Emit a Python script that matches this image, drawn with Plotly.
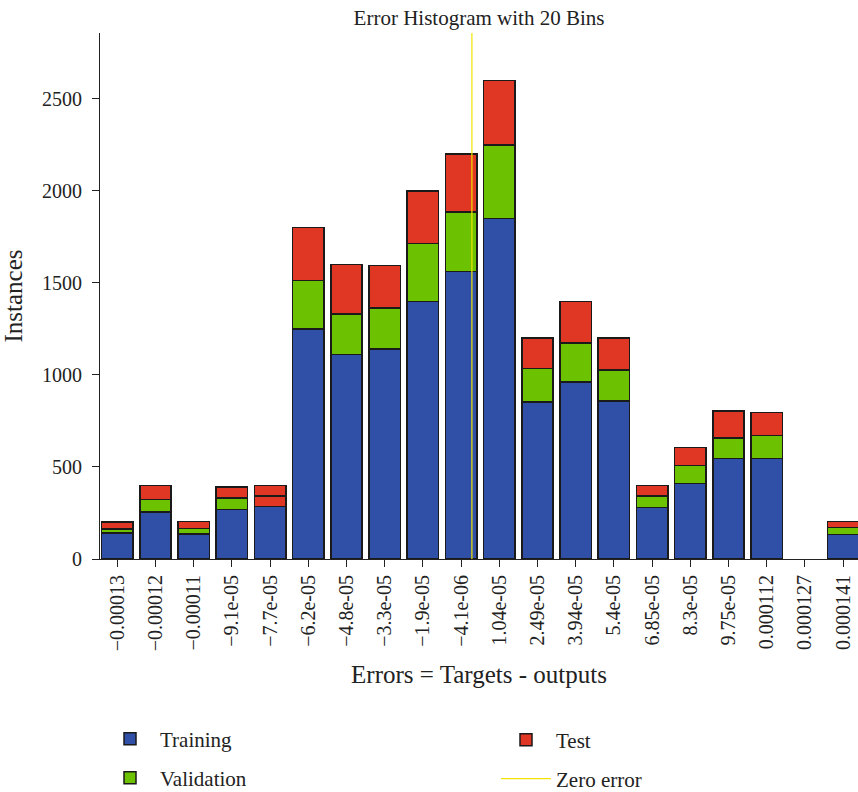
import numpy as np
import plotly.graph_objects as go

# ---- data ----
bin_labels = ["\u22120.00013", "\u22120.00012", "\u22120.00011", "\u22129.1e-05", "\u22127.7e-05",
              "\u22126.2e-05", "\u22124.8e-05", "\u22123.3e-05", "\u22121.9e-05", "\u22124.1e-06",
              "1.04e-05", "2.49e-05", "3.94e-05", "5.4e-05", "6.85e-05",
              "8.3e-05", "9.75e-05", "0.000112", "0.000127", "0.000141"]
bin_centers = [-0.00013, -0.00012, -0.00011, -9.1e-05, -7.7e-05,
               -6.2e-05, -4.8e-05, -3.3e-05, -1.9e-05, -4.1e-06,
               1.04e-05, 2.49e-05, 3.94e-05, 5.4e-05, 6.85e-05,
               8.3e-05, 9.75e-05, 0.000112, 0.000127, 0.000141]
training = [140, 254, 136, 268, 286, 1250, 1112, 1141, 1399, 1562,
            1850, 852, 962, 859, 281, 411, 545, 547, 0, 134]
validation = [23, 68, 31, 62, 55, 262, 218, 223, 315, 324,
              398, 182, 210, 168, 61, 98, 111, 125, 0, 36]
test = [37, 78, 38, 61, 59, 288, 270, 231, 286, 314,
        352, 166, 228, 173, 58, 96, 149, 125, 0, 33]
y_ticks = [0, 500, 1000, 1500, 2000, 2500]
y_max = 2857

idx = np.arange(len(bin_labels))
# position of zero error on the bin-index axis
zero_pos = float(np.interp(0.0, bin_centers, idx))

BLUE = "#3050A8"
GREEN = "#6CC200"
RED = "#E03624"
YELLOW = "#F2E400"
EDGE = "#1a1a1a"
FONT = "Liberation Serif"
TXT = "#222"

W, H = 858, 792
ML, MT, MB, MR = 100, 33, 233, 0
PW, PH = W - ML - MR, H - MT - MB

val_colors = [GREEN] * len(idx)
val_colors[4] = RED  # segment drawn red in the reference


def edge_widths(vals):
    return [1.5 if v > 0 else 0 for v in vals]


fig = go.Figure()
fig.add_trace(go.Bar(x=idx, y=training, name="Training", legend="legend", showlegend=True,
                     marker=dict(color=BLUE, line=dict(color=EDGE, width=edge_widths(training)))))
fig.add_trace(go.Bar(x=idx, y=validation, name="Validation", legend="legend2", showlegend=True,
                     marker=dict(color=val_colors, line=dict(color=EDGE, width=edge_widths(validation)))))
fig.add_trace(go.Bar(x=idx, y=test, name="Test", legend="legend3", showlegend=True,
                     marker=dict(color=RED, line=dict(color=EDGE, width=edge_widths(test)))))
fig.add_trace(go.Scatter(x=[zero_pos, zero_pos], y=[0, y_max], name="Zero error",
                         legend="legend4", showlegend=True, mode="lines",
                         line=dict(color=YELLOW, width=1.2)))


def legend_at(px_left, py_center):
    # page pixels of the legend box's left edge / row centre
    return dict(orientation="v", x=(px_left - ML) / PW, xanchor="left",
                y=(MT + PH - py_center) / PH, yanchor="middle",
                itemwidth=50, bgcolor="rgba(0,0,0,0)", borderwidth=0,
                font=dict(family=FONT, size=21, color=TXT))


fig.update_layout(
    width=W, height=H,
    showlegend=True,
    margin=dict(l=ML, r=MR, t=MT, b=MB, autoexpand=False),
    barmode="stack", bargap=0.18,
    plot_bgcolor="white", paper_bgcolor="white",
    font=dict(family=FONT, size=21, color=TXT),
    title=dict(text="Error Histogram with 20 Bins", x=0.5, xref="paper",
               y=1 - 18 / H, yref="container", yanchor="middle",
               font=dict(family=FONT, size=21, color=TXT), automargin=False),
    xaxis=dict(range=[-0.453, 19.39], tickvals=list(idx), ticktext=bin_labels,
               tickangle=-90, ticks="outside", ticklen=7, tickcolor=TXT,
               tickfont=dict(family=FONT, size=20, color=TXT),
               showline=True, linecolor=TXT, linewidth=1,
               showgrid=False, zeroline=False, automargin=False,
               title=dict(text="Errors = Targets - outputs", standoff=15)),
    yaxis=dict(range=[0, y_max], tickvals=y_ticks, ticks="outside", ticklen=7,
               tickcolor=TXT, tickfont=dict(family=FONT, size=20, color=TXT),
               ticklabelstandoff=6,
               showline=True, linecolor=TXT, linewidth=1,
               showgrid=False, zeroline=False, automargin=True,
               title=dict(text="Instances", standoff=13)),
    legend=legend_at(100, 739),
    legend2=legend_at(100, 778),
    legend3=legend_at(496, 740),
    legend4=legend_at(496, 779),
)

# remove the default 8px page margin so the 858x792 figure fills the window exactly
fig.write_html("out.html", config={"displayModeBar": False},
               post_script="document.body.style.margin='0';document.body.style.overflow='hidden';")
